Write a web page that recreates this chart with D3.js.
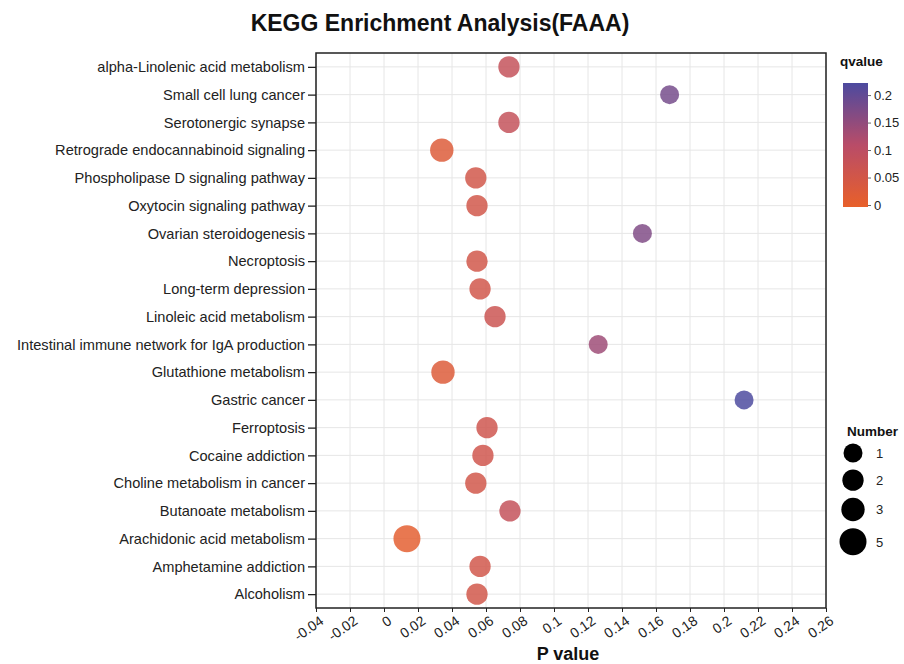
<!DOCTYPE html>
<html>
<head>
<meta charset="utf-8">
<script src="https://cdn.jsdelivr.net/npm/d3@7"></script>
<style>
  body { margin: 0; background: #fff; }
  svg { font-family: "Liberation Sans", Arial, sans-serif; }
</style>
</head>
<body>
<div id="chart"></div>
<script>
// pathways, top to bottom
var pathways = [
  'alpha-Linolenic acid metabolism', 'Small cell lung cancer', 'Serotonergic synapse',
  'Retrograde endocannabinoid signaling', 'Phospholipase D signaling pathway',
  'Oxytocin signaling pathway', 'Ovarian steroidogenesis', 'Necroptosis',
  'Long-term depression', 'Linoleic acid metabolism',
  'Intestinal immune network for IgA production', 'Glutathione metabolism',
  'Gastric cancer', 'Ferroptosis', 'Cocaine addiction', 'Choline metabolism in cancer',
  'Butanoate metabolism', 'Arachidonic acid metabolism', 'Amphetamine addiction', 'Alcoholism'
];
var pvalues = [0.0735, 0.168, 0.0735, 0.034, 0.054, 0.0547, 0.152, 0.0547, 0.0565, 0.0653,
               0.126, 0.0347, 0.2118, 0.0606, 0.0582, 0.054, 0.0741, 0.0135, 0.0565, 0.0547];
var qvalues = [0.085, 0.18, 0.085, 0.025, 0.055, 0.055, 0.17, 0.055, 0.057, 0.07,
               0.14, 0.025, 0.222, 0.062, 0.06, 0.055, 0.085, 0.01, 0.057, 0.055];
var counts = [2, 1, 2, 3, 2, 2, 1, 2, 2, 2, 1, 3, 1, 2, 2, 2, 2, 5, 2, 2];
var xTicks = [-0.04, -0.02, 0, 0.02, 0.04, 0.06, 0.08, 0.1, 0.12, 0.14, 0.16, 0.18, 0.2, 0.22, 0.24, 0.26];
var qTicks = [0, 0.05, 0.1, 0.15, 0.2];
var sizeLegend = [1, 2, 3, 5];

var data = pathways.map(function(d, i) {
  return {name: d, p: pvalues[i], q: qvalues[i], n: counts[i]};
});

var W = 904, H = 664;
// plot box ("top" is taken on window, hence plotTop etc.)
var plotLeft = 316, plotRight = 826, plotTop = 53, plotBottom = 608;

var svg = d3.select('#chart').append('svg')
  .attr('width', W).attr('height', H);

var x = d3.scaleLinear().domain([-0.04, 0.26]).range([plotLeft, plotRight]);
var y = d3.scalePoint().domain(pathways).range([plotTop, plotBottom]).padding(0.5);
var qmax = d3.max(qvalues);
var color = d3.scaleLinear()
  .domain([0, qmax / 2, qmax])
  .range(['#e8602a', '#b94c68', '#4c4a9f'])
  .interpolate(d3.interpolateRgb);
// area linear in count
var size = function(n) { return Math.sqrt(90.25 + (n - 1) * 23); };

svg.append('text')
  .attr('x', 440).attr('y', 31)
  .attr('text-anchor', 'middle')
  .style('font-size', '23px').style('font-weight', 'bold')
  .attr('fill', '#111')
  .text('KEGG Enrichment Analysis(FAAA)');

// grid
svg.append('g').selectAll('line').data(xTicks).enter().append('line')
  .attr('x1', function(d) { return x(d); }).attr('x2', function(d) { return x(d); })
  .attr('y1', plotTop).attr('y2', plotBottom)
  .attr('stroke', '#e6e6e6').attr('stroke-width', 1);
svg.append('g').selectAll('line').data(pathways).enter().append('line')
  .attr('y1', function(d) { return y(d); }).attr('y2', function(d) { return y(d); })
  .attr('x1', plotLeft).attr('x2', plotRight)
  .attr('stroke', '#e6e6e6').attr('stroke-width', 1);

// points
svg.append('g').selectAll('circle').data(data).enter().append('circle')
  .attr('cx', function(d) { return x(d.p); })
  .attr('cy', function(d) { return y(d.name); })
  .attr('r', function(d) { return size(d.n); })
  .attr('fill', function(d) { return color(d.q); })
  .attr('fill-opacity', 0.84);

// frame
svg.append('rect')
  .attr('x', plotLeft).attr('y', plotTop)
  .attr('width', plotRight - plotLeft).attr('height', plotBottom - plotTop)
  .attr('fill', 'none').attr('stroke', '#222').attr('stroke-width', 1.5);

// axes
var yAxis = svg.append('g')
  .attr('transform', 'translate(' + plotLeft + ',0)')
  .call(d3.axisLeft(y).tickSize(8).tickPadding(3));
yAxis.select('.domain').remove();
yAxis.selectAll('text').style('font-size', '14.6px').attr('fill', '#222');
yAxis.selectAll('line').attr('stroke', '#222').attr('stroke-width', 1.3);

var xAxis = svg.append('g')
  .attr('transform', 'translate(0,' + plotBottom + ')')
  .call(d3.axisBottom(x).tickValues(xTicks).tickSize(4).tickFormat(function(d) {
    return String(+d.toFixed(2));
  }));
xAxis.select('.domain').remove();
xAxis.selectAll('line').attr('stroke', '#222');
xAxis.selectAll('text')
  .style('font-size', '14px').attr('fill', '#222')
  .attr('text-anchor', 'end')
  .attr('dx', '-2px').attr('dy', '10px')
  .attr('transform', 'rotate(-35)');

svg.append('text')
  .attr('x', 568).attr('y', 660)
  .attr('text-anchor', 'middle')
  .style('font-size', '18px').style('font-weight', 'bold')
  .attr('fill', '#111')
  .text('P value');

// qvalue colorbar
var cbX = 843, cbW = 25, cbTop = 83, cbBottom = 207;
var defs = svg.append('defs');
var grad = defs.append('linearGradient').attr('id', 'qgrad')
  .attr('x1', 0).attr('y1', 1).attr('x2', 0).attr('y2', 0);
d3.range(0, 1.0001, 0.1).forEach(function(t) {
  grad.append('stop').attr('offset', t).attr('stop-color', color(t * qmax));
});
svg.append('text').attr('x', 840).attr('y', 66)
  .style('font-size', '13.5px').style('font-weight', 'bold').attr('fill', '#111').text('qvalue');
svg.append('rect').attr('x', cbX).attr('y', cbTop)
  .attr('width', cbW).attr('height', cbBottom - cbTop)
  .attr('fill', 'url(#qgrad)');
var qy = d3.scaleLinear().domain([0, qmax]).range([cbBottom - 2, cbTop]);
var qAxis = svg.append('g')
  .attr('transform', 'translate(' + (cbX + cbW) + ',0)')
  .call(d3.axisRight(qy).tickValues(qTicks).tickSize(3).tickPadding(3)
    .tickFormat(function(d) { return String(d); }));
qAxis.select('.domain').remove();
qAxis.selectAll('line').attr('stroke', '#666');
qAxis.selectAll('text').style('font-size', '13px').attr('fill', '#222');

// Number legend
svg.append('text').attr('x', 847).attr('y', 436)
  .style('font-size', '13.5px').style('font-weight', 'bold').attr('fill', '#111').text('Number');
var ly = [];
var cur = 453;
sizeLegend.forEach(function(n, i) {
  if (i > 0) cur += size(sizeLegend[i - 1]) + size(n) + 7;
  ly.push(cur);
});
var lg = svg.append('g').selectAll('g').data(sizeLegend).enter().append('g');
lg.append('circle')
  .attr('cx', 853).attr('cy', function(d, i) { return ly[i]; })
  .attr('r', function(d) { return size(d); })
  .attr('fill', '#000');
lg.append('text')
  .attr('x', 876).attr('y', function(d, i) { return ly[i] + 5; })
  .style('font-size', '13px').attr('fill', '#222')
  .text(function(d) { return d; });
</script>
</body>
</html>
